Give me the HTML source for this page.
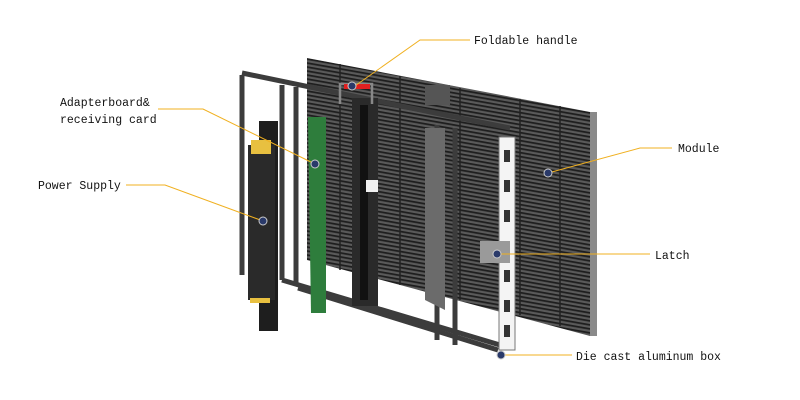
<!DOCTYPE html>
<html><head><meta charset="utf-8"><style>
html,body{margin:0;padding:0;background:#fff;width:800px;height:400px;overflow:hidden}
text{font-family:"Liberation Mono",monospace;font-size:11.5px;fill:#111}
</style></head><body>
<svg width="800" height="400" viewBox="0 0 800 400" xmlns="http://www.w3.org/2000/svg">
<defs>
<pattern id="grill" width="6" height="4" patternUnits="userSpaceOnUse" patternTransform="skewY(10)">
<rect width="6" height="4" fill="#5a5a5a"/><rect y="0" width="6" height="1.8" fill="#1e1e1e"/>
</pattern>
</defs>
<polygon points="307,58 590,112 597,112 597,336 590,336 307,260" fill="url(#grill)"/>
<polygon points="590,112 597,112 597,336 590,336" fill="#8a8a8a"/>
<g stroke="#222" stroke-width="1.5">
<line x1="340" y1="64" x2="340" y2="270"/><line x1="400" y1="76" x2="400" y2="285"/>
<line x1="460" y1="88" x2="460" y2="300"/><line x1="520" y1="99" x2="520" y2="315"/><line x1="560" y1="106" x2="560" y2="326"/>
</g>
<rect x="425" y="85" width="25" height="20" fill="#555"/>
<g fill="none" stroke="#3c3c3c" stroke-width="5">
<polyline points="242,75 242,275"/>
<polyline points="242,73 445,115 510,128"/>
<polyline points="282,85 282,280"/>
<polyline points="296,87 296,285"/>
<polyline points="282,280 500,345"/>
<polyline points="298,288 498,350"/>
<polyline points="437,125 437,340"/>
<polyline points="455,128 455,345"/>
</g>
<rect x="352" y="98" width="26" height="208" fill="#2a2a2a"/>
<rect x="360" y="105" width="8" height="195" fill="#111"/>
<rect x="366" y="180" width="12" height="12" fill="#f0f0f0"/>
<polygon points="425,128 445,128 445,310 425,300" fill="#6b6b6b"/>
<path d="M340,104 L340,84 L372,84 L372,104" stroke="#888" stroke-width="2.5" fill="none"/>
<rect x="344" y="84" width="26" height="5" fill="#e02020"/>
<rect x="499" y="137" width="16" height="213" fill="#f4f4f4" stroke="#777"/>
<g fill="#333"><rect x="504" y="150" width="6" height="12"/><rect x="504" y="180" width="6" height="12"/><rect x="504" y="210" width="6" height="12"/><rect x="504" y="270" width="6" height="12"/><rect x="504" y="300" width="6" height="12"/><rect x="504" y="325" width="6" height="12"/></g>
<rect x="480" y="241" width="30" height="22" fill="#9a9a9a"/>
<polygon points="308,117 326,117 326,313 311,313" fill="#2e7d3c"/>
<rect x="259" y="121" width="19" height="210" fill="#1e1e1e"/>
<rect x="248" y="145" width="27" height="155" fill="#2a2a2a"/>
<rect x="251" y="140" width="20" height="14" fill="#e8c040"/>
<rect x="250" y="298" width="20" height="5" fill="#e8c040"/>
<g stroke="#f0b020" stroke-width="1" fill="none">
<polyline points="352,88 420,40 470,40"/>
<polyline points="158,109 203,109 315,164"/>
<polyline points="126,185 165,185 263,221"/>
<polyline points="548,173 640,148 672,148"/>
<polyline points="497,254 650,254"/>
<polyline points="501,355 572,355"/>
</g>
<g fill="#2a3a6a" stroke="#ccc" stroke-width="1">
<circle cx="352" cy="86" r="4"/><circle cx="315" cy="164" r="4"/><circle cx="263" cy="221" r="4"/>
<circle cx="548" cy="173" r="4"/><circle cx="497" cy="254" r="4"/><circle cx="501" cy="355" r="4"/>
</g>
<text x="474" y="44">Foldable handle</text>
<text x="60" y="106">Adapterboard&amp;</text>
<text x="60" y="123">receiving card</text>
<text x="38" y="189">Power Supply</text>
<text x="678" y="152">Module</text>
<text x="655" y="259">Latch</text>
<text x="576" y="360">Die cast aluminum box</text>
</svg>
</body></html>
